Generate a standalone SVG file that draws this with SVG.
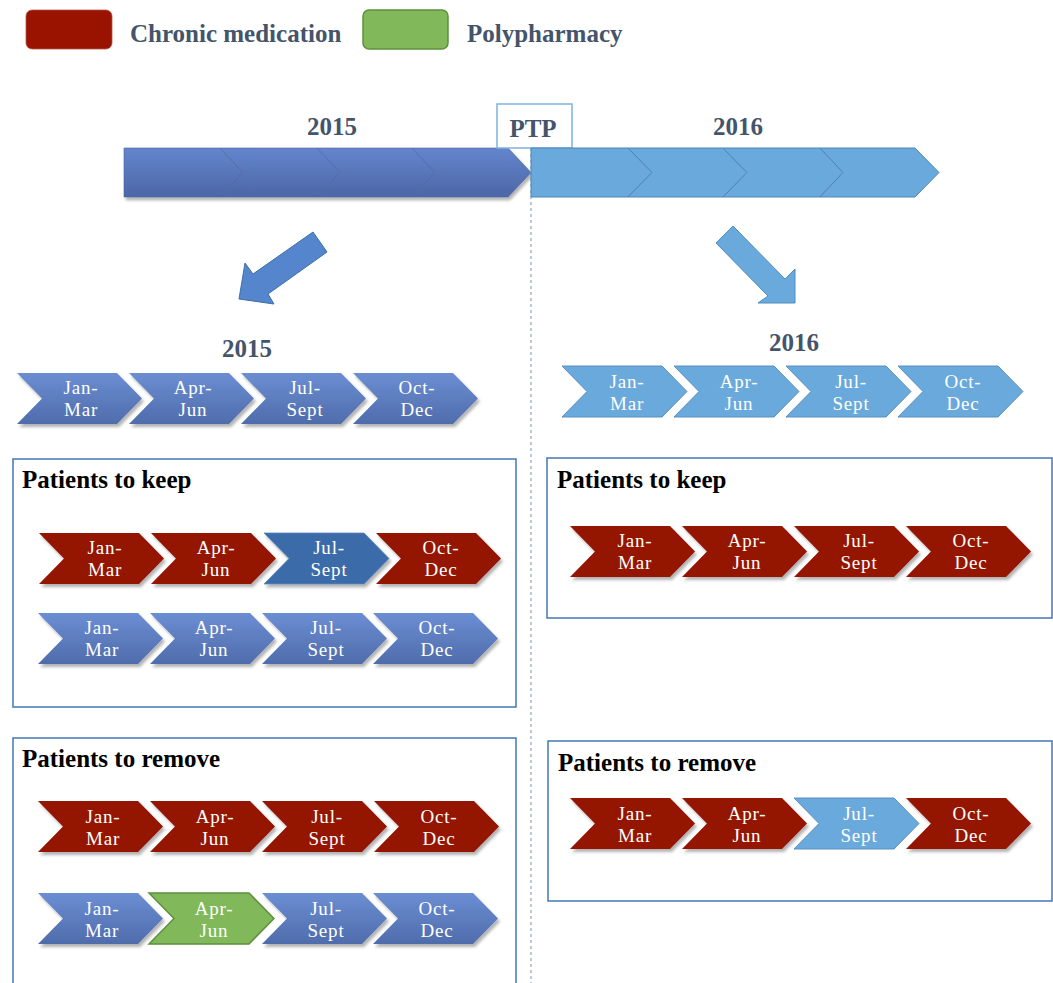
<svg xmlns="http://www.w3.org/2000/svg" width="1053" height="983" viewBox="0 0 1053 983">
<defs>
<linearGradient id="gBlue" x1="0" y1="0" x2="0" y2="1"><stop offset="0" stop-color="#6b8ed3"/><stop offset="1" stop-color="#4f6cab"/></linearGradient>
<linearGradient id="gBand" x1="0" y1="0" x2="0" y2="1"><stop offset="0" stop-color="#6485cd"/><stop offset="1" stop-color="#4c67a6"/></linearGradient>
<filter id="sh" x="-10%" y="-20%" width="130%" height="160%"><feDropShadow dx="2" dy="3" stdDeviation="1.8" flood-color="#000" flood-opacity="0.3"/></filter>
<path id="chev" d="M0,0 H100 L125,25.5 L100,51 H0 L25,25.5 Z"/>
<style>
.bold{font-family:"Liberation Serif","Times New Roman",serif;font-weight:bold;font-size:25px}
.slate{fill:#44546a}
.blk{fill:#000}
.ct{font-family:"Liberation Serif","Times New Roman",serif;font-size:19px;letter-spacing:0.8px;fill:#fff;text-anchor:middle}
.red{fill:#941200;filter:url(#sh)}
.blue{fill:url(#gBlue);filter:url(#sh)}
.dblue{fill:#3b6ca9;stroke:#5a86bd;stroke-width:0.8;filter:url(#sh)}
.lblue{fill:#6aa9db;stroke:#5b8fc2;stroke-width:1}
.green{fill:#80b85a;stroke:#5e8e3e;stroke-width:1.5}
.box{fill:none;stroke:#4f7fbb;stroke-width:1.6}
</style>
</defs>
<rect width="1053" height="983" fill="#fff"/>

<g id="legend">
<rect x="26" y="10" width="86" height="39" rx="6" fill="#9a1200" stroke="#b5584a" stroke-width="0.8"/>
<text x="130" y="42" class="bold slate">Chronic medication</text>
<rect x="363" y="10" width="85" height="39" rx="6" fill="#80b85a" stroke="#5e8e3e" stroke-width="1.5"/>
<text x="467" y="42" class="bold slate">Polypharmacy</text>
</g>

<g id="connectors">
<line x1="531" y1="148" x2="531" y2="983" stroke="#8090a8" stroke-width="1" stroke-dasharray="3,3"/>
<polygon points="313,232 327,252 268,294 274,304 239,299 245,263 253,274" fill="#5585cc" stroke="#3f6ea8" stroke-width="1"/>
<polygon points="733,226 785,279 795,269 795,303 758,303 768,296 716,243" fill="#6aa9db" stroke="#4f8dc0" stroke-width="1"/>
</g>

<g id="band2015">
<g fill="url(#gBand)" stroke="#4a62a0" stroke-width="0.6" filter="url(#sh)">
<polygon points="124,148 220,148 243,172.5 220,197 124,197"/>
<polygon points="220,148 317,148 340,172.5 317,197 220,197 243,172.5"/>
<polygon points="317,148 412,148 435,172.5 412,197 317,197 340,172.5"/>
<polygon points="412,148 508,148 531,172.5 508,197 412,197 435,172.5"/>
</g>
<text x="332" y="135" class="bold slate" text-anchor="middle">2015</text>
</g>

<g id="ptp">
<rect x="497" y="104" width="75" height="44" fill="#fff" stroke="#7fb2de" stroke-width="1.5"/>
<text x="533" y="137" class="bold slate" text-anchor="middle">PTP</text>
</g>

<g id="band2016">
<g fill="#6aa9db" stroke="#4f86b8" stroke-width="1">
<polygon points="531,148 628,148 652,172.5 628,197 531,197"/>
<polygon points="628,148 723,148 747,172.5 723,197 628,197 652,172.5"/>
<polygon points="723,148 820,148 843,172.5 820,197 723,197 747,172.5"/>
<polygon points="820,148 915,148 939,172.5 915,197 820,197 843,172.5"/>
</g>
<text x="738" y="135" class="bold slate" text-anchor="middle">2016</text>
</g>

<g id="quarters2015">
<text x="247" y="357" class="bold slate" text-anchor="middle">2015</text>
<use href="#chev" x="17" y="373" class="blue"/>
<use href="#chev" x="129" y="373" class="blue"/>
<use href="#chev" x="241" y="373" class="blue"/>
<use href="#chev" x="353" y="373" class="blue"/>
<text class="ct"><tspan x="81" y="394">Jan-</tspan><tspan x="81" y="415.5">Mar</tspan></text>
<text class="ct"><tspan x="193" y="394">Apr-</tspan><tspan x="193" y="415.5">Jun</tspan></text>
<text class="ct"><tspan x="305" y="394">Jul-</tspan><tspan x="305" y="415.5">Sept</tspan></text>
<text class="ct"><tspan x="417" y="394">Oct-</tspan><tspan x="417" y="415.5">Dec</tspan></text>
</g>

<g id="quarters2016">
<text x="794" y="351" class="bold slate" text-anchor="middle">2016</text>
<use href="#chev" x="562" y="366" class="lblue"/>
<use href="#chev" x="674" y="366" class="lblue"/>
<use href="#chev" x="786" y="366" class="lblue"/>
<use href="#chev" x="898" y="366" class="lblue"/>
<text class="ct"><tspan x="627" y="388">Jan-</tspan><tspan x="627" y="409.5">Mar</tspan></text>
<text class="ct"><tspan x="739" y="388">Apr-</tspan><tspan x="739" y="409.5">Jun</tspan></text>
<text class="ct"><tspan x="851" y="388">Jul-</tspan><tspan x="851" y="409.5">Sept</tspan></text>
<text class="ct"><tspan x="963" y="388">Oct-</tspan><tspan x="963" y="409.5">Dec</tspan></text>
</g>

<g id="keep2015">
<rect x="13" y="459" width="503" height="248" class="box"/>
<text x="22" y="488" class="bold blk">Patients to keep</text>
<use href="#chev" x="39" y="533" class="red"/>
<use href="#chev" x="151" y="533" class="red"/>
<use href="#chev" x="264" y="533" class="dblue"/>
<use href="#chev" x="376" y="533" class="red"/>
<text class="ct"><tspan x="105" y="554">Jan-</tspan><tspan x="105" y="575.5">Mar</tspan></text>
<text class="ct"><tspan x="216" y="554">Apr-</tspan><tspan x="216" y="575.5">Jun</tspan></text>
<text class="ct"><tspan x="329" y="554">Jul-</tspan><tspan x="329" y="575.5">Sept</tspan></text>
<text class="ct"><tspan x="441" y="554">Oct-</tspan><tspan x="441" y="575.5">Dec</tspan></text>
<use href="#chev" x="38" y="613" class="blue"/>
<use href="#chev" x="150" y="613" class="blue"/>
<use href="#chev" x="262" y="613" class="blue"/>
<use href="#chev" x="373" y="613" class="blue"/>
<text class="ct"><tspan x="102" y="634">Jan-</tspan><tspan x="102" y="655.5">Mar</tspan></text>
<text class="ct"><tspan x="214" y="634">Apr-</tspan><tspan x="214" y="655.5">Jun</tspan></text>
<text class="ct"><tspan x="326" y="634">Jul-</tspan><tspan x="326" y="655.5">Sept</tspan></text>
<text class="ct"><tspan x="437" y="634">Oct-</tspan><tspan x="437" y="655.5">Dec</tspan></text>
</g>

<g id="remove2015">
<rect x="13" y="738" width="503" height="260" class="box"/>
<text x="22" y="767" class="bold blk">Patients to remove</text>
<use href="#chev" x="38" y="801" class="red"/>
<use href="#chev" x="150" y="801" class="red"/>
<use href="#chev" x="262" y="801" class="red"/>
<use href="#chev" x="374" y="801" class="red"/>
<text class="ct"><tspan x="103" y="823">Jan-</tspan><tspan x="103" y="844.5">Mar</tspan></text>
<text class="ct"><tspan x="215" y="823">Apr-</tspan><tspan x="215" y="844.5">Jun</tspan></text>
<text class="ct"><tspan x="327" y="823">Jul-</tspan><tspan x="327" y="844.5">Sept</tspan></text>
<text class="ct"><tspan x="439" y="823">Oct-</tspan><tspan x="439" y="844.5">Dec</tspan></text>
<use href="#chev" x="38" y="893" class="blue"/>
<use href="#chev" x="149" y="893" class="green"/>
<use href="#chev" x="262" y="893" class="blue"/>
<use href="#chev" x="373" y="893" class="blue"/>
<text class="ct"><tspan x="102" y="915">Jan-</tspan><tspan x="102" y="936.5">Mar</tspan></text>
<text class="ct"><tspan x="214" y="915">Apr-</tspan><tspan x="214" y="936.5">Jun</tspan></text>
<text class="ct"><tspan x="326" y="915">Jul-</tspan><tspan x="326" y="936.5">Sept</tspan></text>
<text class="ct"><tspan x="437" y="915">Oct-</tspan><tspan x="437" y="936.5">Dec</tspan></text>
</g>

<g id="keep2016">
<rect x="547" y="458" width="505" height="160" class="box"/>
<text x="557" y="488" class="bold blk">Patients to keep</text>
<use href="#chev" x="570" y="526" class="red"/>
<use href="#chev" x="682" y="526" class="red"/>
<use href="#chev" x="794" y="526" class="red"/>
<use href="#chev" x="906" y="526" class="red"/>
<text class="ct"><tspan x="635" y="547">Jan-</tspan><tspan x="635" y="568.5">Mar</tspan></text>
<text class="ct"><tspan x="747" y="547">Apr-</tspan><tspan x="747" y="568.5">Jun</tspan></text>
<text class="ct"><tspan x="859" y="547">Jul-</tspan><tspan x="859" y="568.5">Sept</tspan></text>
<text class="ct"><tspan x="971" y="547">Oct-</tspan><tspan x="971" y="568.5">Dec</tspan></text>
</g>

<g id="remove2016">
<rect x="548" y="741" width="504" height="160" class="box"/>
<text x="558" y="771" class="bold blk">Patients to remove</text>
<use href="#chev" x="570" y="798" class="red"/>
<use href="#chev" x="682" y="798" class="red"/>
<use href="#chev" x="794" y="798" class="lblue"/>
<use href="#chev" x="906" y="798" class="red"/>
<text class="ct"><tspan x="635" y="820">Jan-</tspan><tspan x="635" y="841.5">Mar</tspan></text>
<text class="ct"><tspan x="747" y="820">Apr-</tspan><tspan x="747" y="841.5">Jun</tspan></text>
<text class="ct"><tspan x="859" y="820">Jul-</tspan><tspan x="859" y="841.5">Sept</tspan></text>
<text class="ct"><tspan x="971" y="820">Oct-</tspan><tspan x="971" y="841.5">Dec</tspan></text>
</g>
</svg>
